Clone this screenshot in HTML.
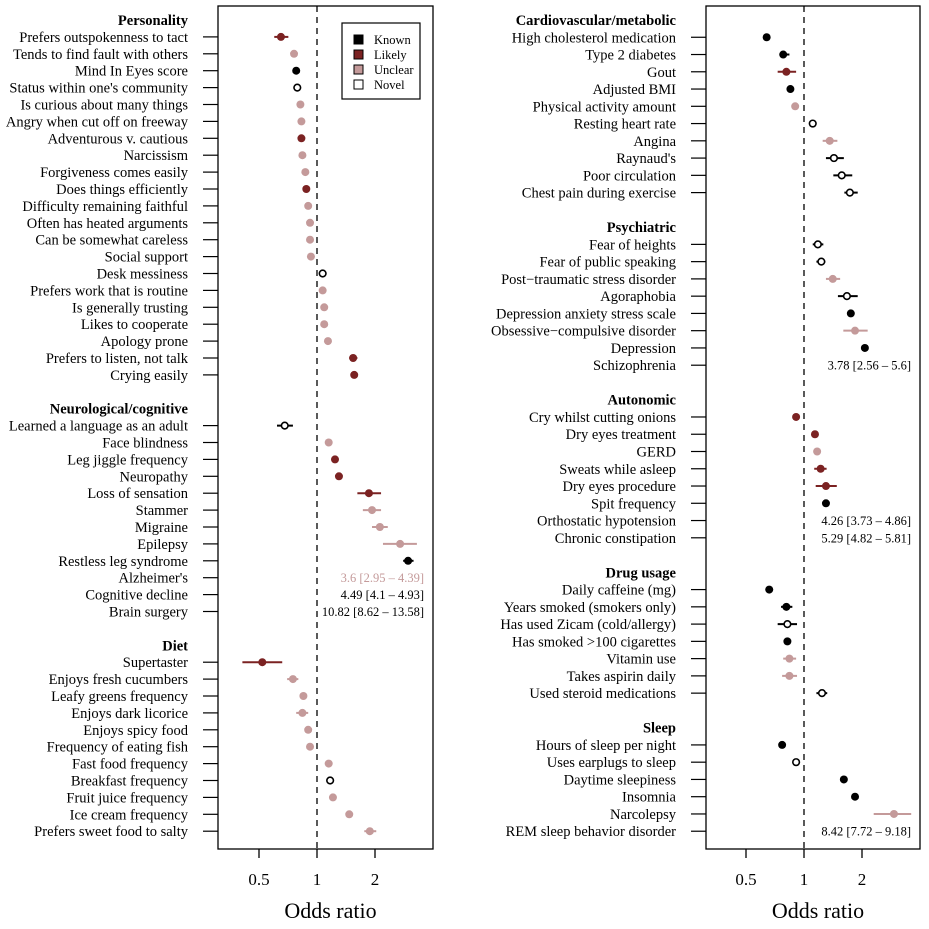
<!DOCTYPE html>
<html><head><meta charset="utf-8"><style>
body{margin:0;background:#fff}
svg{display:block;font-family:"Liberation Serif",serif}
</style></head><body>
<svg id="c" width="929" height="929" viewBox="0 0 929 929"></svg>
<script>
const NS="http://www.w3.org/2000/svg";
const COL={K:"#000",L:"#7b2222",U:"#c49a9a",N:"#fff"};
// Left panel data
const leftLabels=["Personality","Prefers outspokenness to tact","Tends to find fault with others","Mind In Eyes score","Status within one's community","Is curious about many things","Angry when cut off on freeway","Adventurous v. cautious","Narcissism","Forgiveness comes easily","Does things efficiently","Difficulty remaining faithful","Often has heated arguments","Can be somewhat careless","Social support","Desk messiness","Prefers work that is routine","Is generally trusting","Likes to cooperate","Apology prone","Prefers to listen, not talk","Crying easily","","Neurological/cognitive","Learned a language as an adult","Face blindness","Leg jiggle frequency","Neuropathy","Loss of sensation","Stammer","Migraine","Epilepsy","Restless leg syndrome","Alzheimer's","Cognitive decline","Brain surgery","","Diet","Supertaster","Enjoys fresh cucumbers","Leafy greens frequency","Enjoys dark licorice","Enjoys spicy food","Frequency of eating fish","Fast food frequency","Breakfast frequency","Fruit juice frequency","Ice cream frequency","Prefers sweet food to salty"];
const leftOR=[null,0.65,0.76,0.78,0.79,0.82,0.83,0.83,0.84,0.87,0.88,0.9,0.92,0.92,0.93,1.07,1.07,1.09,1.09,1.14,1.54,1.56,null,null,0.68,1.15,1.24,1.30,1.86,1.93,2.12,2.7,2.97,3.6,4.49,10.82,null,null,0.52,0.75,0.85,0.84,0.9,0.92,1.15,1.17,1.21,1.47,1.88];
const leftLo=[null,0.6,0,0,0,0,0,0,0,0,0,0,0,0,0,0,0,0,0,0,1.47,0,null,null,0.62,0,0,0,1.62,1.73,1.93,2.2,2.8,2.95,4.1,8.62,null,null,0.41,0.7,0,0.78,0,0,0,0,0,0,1.76];
const leftHi=[null,0.71,0,0,0,0,0,0,0,0,0,0,0,0,0,0,0,0,0,0,1.62,0,null,null,0.75,0,0,0,2.15,2.15,2.33,3.3,3.17,4.39,4.93,13.58,null,null,0.66,0.8,0,0.9,0,0,0,0,0,0,2.03];
const leftCat=["","L","U","K","N","U","U","L","U","U","L","U","U","U","U","N","U","U","U","U","L","L","","","N","U","L","L","L","U","U","U","K","U","K","K","","","L","U","U","U","U","U","U","N","U","U","U"];
// Right panel data
const rightLabels=["Cardiovascular/metabolic","High cholesterol medication","Type 2 diabetes","Gout","Adjusted BMI","Physical activity amount","Resting heart rate","Angina","Raynaud's","Poor circulation","Chest pain during exercise","","Psychiatric","Fear of heights","Fear of public speaking","Post\u2212traumatic stress disorder","Agoraphobia","Depression anxiety stress scale","Obsessive\u2212compulsive disorder","Depression","Schizophrenia","","Autonomic","Cry whilst cutting onions","Dry eyes treatment","GERD","Sweats while asleep","Dry eyes procedure","Spit frequency","Orthostatic hypotension","Chronic constipation","","Drug usage","Daily caffeine (mg)","Years smoked (smokers only)","Has used Zicam (cold/allergy)","Has smoked >100 cigarettes","Vitamin use","Takes aspirin daily","Used steroid medications","","Sleep","Hours of sleep per night","Uses earplugs to sleep","Daytime sleepiness","Insomnia","Narcolepsy","REM sleep behavior disorder"];
const rightOR=[null,0.64,0.78,0.81,0.85,0.9,1.11,1.36,1.43,1.57,1.73,null,null,1.18,1.23,1.41,1.67,1.75,1.84,2.07,3.78,null,null,0.91,1.14,1.17,1.22,1.3,1.3,4.26,5.29,null,null,0.66,0.81,0.82,0.82,0.84,0.84,1.24,null,null,0.77,0.91,1.61,1.84,2.93,8.42];
const rightLo=[null,0,0.75,0.73,0,0,0,1.25,1.3,1.42,1.62,null,null,1.11,1.16,1.3,1.5,0,1.6,0,2.56,null,null,0,0,0,1.13,1.15,0,3.73,4.82,null,null,0,0.76,0.73,0,0.78,0.77,1.16,null,null,0,0,0,0,2.3,7.72];
const rightHi=[null,0,0.84,0.91,0,0,0,1.49,1.61,1.78,1.9,null,null,1.26,1.29,1.54,1.9,0,2.14,0,5.6,null,null,0,0,0,1.31,1.48,0,4.86,5.81,null,null,0,0.87,0.92,0,0.91,0.92,1.32,null,null,0,0,0,0,3.6,9.18];
const rightCat=["","K","K","L","K","U","N","U","N","N","N","","","N","N","U","N","K","U","K","K","","","L","L","U","L","L","K","K","K","","","K","K","N","K","U","U","N","","","K","N","K","K","U","K"];
const tickVals=[0.5,1,2];
const tickLabels=["0.5","1","2"];
const legendNames=["Known","Likely","Unclear","Novel"];
const legendCats=["K","L","U","N"];
const OFFSCALE=3.3;

const svg=document.getElementById('c');
function mk(t,a,p){const e=document.createElementNS(NS,t);for(const k in a)e.setAttribute(k,a[k]);(p||svg).appendChild(e);return e;}

function panel(P){
  const g=mk('g',{});
  
  
  const x=v=>P.x1+58*Math.log2(v);
  const y=i=>20+i*P.step;
  const bw=P.br-P.bx;
  mk('rect',{x:P.bx,y:6,width:bw,height:843,fill:'none',stroke:'#000','stroke-width':1.3},g);
  mk('line',{x1:x(1),y1:6,x2:x(1),y2:849,stroke:'#000','stroke-width':1.3,'stroke-dasharray':'6,5'},g);
  P.labels.forEach((lab,i)=>{
    if(!lab)return;
    const isHead=P.or[i]===null;
    const t=mk('text',{x:P.bx-30,y:y(i)+5,'text-anchor':'end','font-size':14.5,'font-weight':isHead?'bold':'normal'},g);
    
    
    t.textContent=lab;
    if(isHead)return;
    mk('line',{x1:P.bx-15,x2:P.bx,y1:y(i),y2:y(i),stroke:'#000','stroke-width':1.2},g);
    const v=P.or[i],c=P.cat[i];
    if(v>OFFSCALE){
      const tt=mk('text',{x:P.br-9,y:y(i)+4.5,'text-anchor':'end','font-size':12.5,fill:c==='U'?COL.U:'#000'},g);
      
      
      tt.textContent=v+" ["+P.lo[i]+" \u2013 "+P.hi[i]+"]";
      return;
    }
    const stroke=c==='N'?'#000':COL[c];
    if(P.lo[i]>0){
      const l=mk('line',{x1:x(P.lo[i]),x2:x(P.hi[i]),y1:y(i),y2:y(i),stroke:stroke,'stroke-width':2},g);
      
      
    }
    const pt=mk('circle',{cx:x(v),cy:y(i),r:c==='N'?3.3:4,fill:COL[c],stroke:c==='N'?'#000':'none','stroke-width':1.6},g);
    
    
  });
  tickVals.forEach((v,k)=>{
    mk('line',{x1:x(v),x2:x(v),y1:849,y2:858,stroke:'#000','stroke-width':1.3},g);
    const t=mk('text',{x:x(v),y:885,'text-anchor':'middle','font-size':17},g);
    
    
    t.textContent=tickLabels[k];
  });
  const at=mk('text',{x:(P.bx+P.br)/2+5,y:918,'text-anchor':'middle','font-size':22},g);
  
  
  at.textContent="Odds ratio";
}
panel({name:'left-panel',bx:218,br:433,x1:317,step:16.9,labels:leftLabels,or:leftOR,lo:leftLo,hi:leftHi,cat:leftCat});
panel({name:'right-panel',bx:706,br:920,x1:804,step:17.26,labels:rightLabels,or:rightOR,lo:rightLo,hi:rightHi,cat:rightCat});

// legend
const lg=mk('g',{});


mk('rect',{x:342,y:23,width:78,height:76,fill:'#fff',stroke:'#000','stroke-width':1.2},lg);
legendNames.forEach((n,k)=>{
  const e=mk('g',{},lg);
  
  
  const yy=40+k*15;
  mk('rect',{x:354,y:yy-5,width:9,height:9,fill:COL[legendCats[k]],stroke:'#000','stroke-width':1},e);
  const t=mk('text',{x:374,y:yy+4,'font-size':12.5},e);
  t.textContent=n;
});
</script>
</body></html>
